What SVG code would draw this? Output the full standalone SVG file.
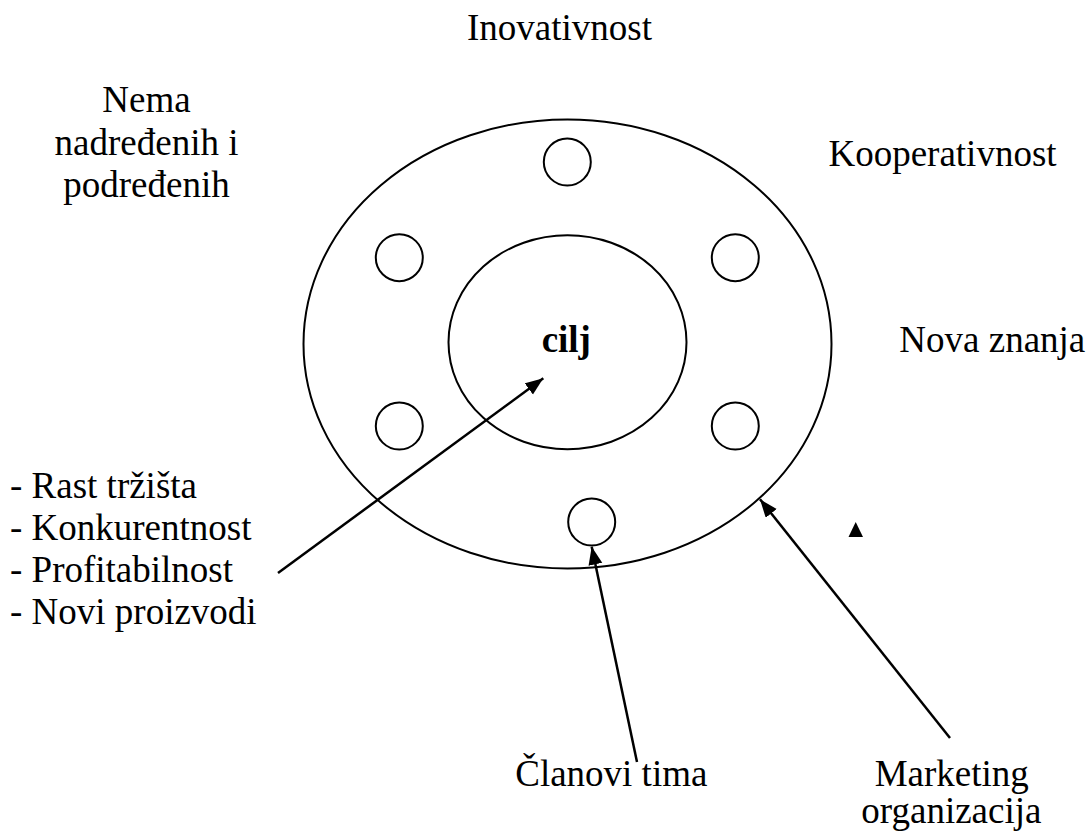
<svg xmlns="http://www.w3.org/2000/svg" width="1089" height="831" viewBox="0 0 1089 831">
<defs>
<style>
.t{font-family:"Liberation Serif","Times New Roman",serif;font-size:37px;fill:#000}
.c{text-anchor:middle}
.b{font-weight:bold}
.sh{fill:none;stroke:#000;stroke-width:2}
.ln{fill:none;stroke:#000;stroke-width:2.5}
</style>
<marker id="ah" markerUnits="userSpaceOnUse" markerWidth="20" markerHeight="16" refX="18" refY="7" orient="auto">
<path d="M0,0 L18,7 L0,14 z" fill="#000"/>
</marker>
</defs>
<rect width="1089" height="831" fill="#fff"/>
<g id="outer"><ellipse class="sh" cx="567.5" cy="344" rx="264" ry="224.5"/></g>
<g id="inner"><ellipse class="sh" cx="567.5" cy="342.2" rx="119" ry="107"/>
<text class="t c b" x="566.3" y="352">cilj</text></g>
<g id="m1"><circle class="sh" cx="567.3" cy="162" r="23.5"/></g>
<g id="m2"><circle class="sh" cx="399.3" cy="257.7" r="23.5"/></g>
<g id="m3"><circle class="sh" cx="735.3" cy="257.7" r="23.5"/></g>
<g id="m4"><circle class="sh" cx="399.3" cy="426" r="23.5"/></g>
<g id="m5"><circle class="sh" cx="735.3" cy="426" r="23.5"/></g>
<g id="m6"><circle class="sh" cx="591.7" cy="522" r="23.5"/></g>
<g id="labels">
<text class="t c" x="559.5" y="40">Inovativnost</text>
<text class="t c" x="146.5" y="112">Nema</text>
<text class="t c" x="146.5" y="154.5">nadređenih i</text>
<text class="t c" x="146.5" y="197">podređenih</text>
<text class="t c" x="942.5" y="166">Kooperativnost</text>
<text class="t c" x="992.3" y="352">Nova znanja</text>
<text class="t" x="10" y="497.5">- Rast tržišta</text>
<text class="t" x="10" y="539.5">- Konkurentnost</text>
<text class="t" x="10" y="581.5">- Profitabilnost</text>
<text class="t" x="10" y="623.5">- Novi proizvodi</text>
<text class="t c" x="611.3" y="786">Članovi tima</text>
<text class="t c" x="951.7" y="786">Marketing</text>
<text class="t c" x="951.4" y="823">organizacija</text>
</g>
<g id="connectors">
<line class="ln" x1="278" y1="573" x2="543.3" y2="378.3" marker-end="url(#ah)"/>
<line class="ln" x1="637" y1="762" x2="591.7" y2="546.7" marker-end="url(#ah)"/>
<line class="ln" x1="950" y1="738" x2="760" y2="499.3" marker-end="url(#ah)"/>
</g>
<polygon points="848.5,537 863,537 855.7,522" fill="#000"/>
</svg>
